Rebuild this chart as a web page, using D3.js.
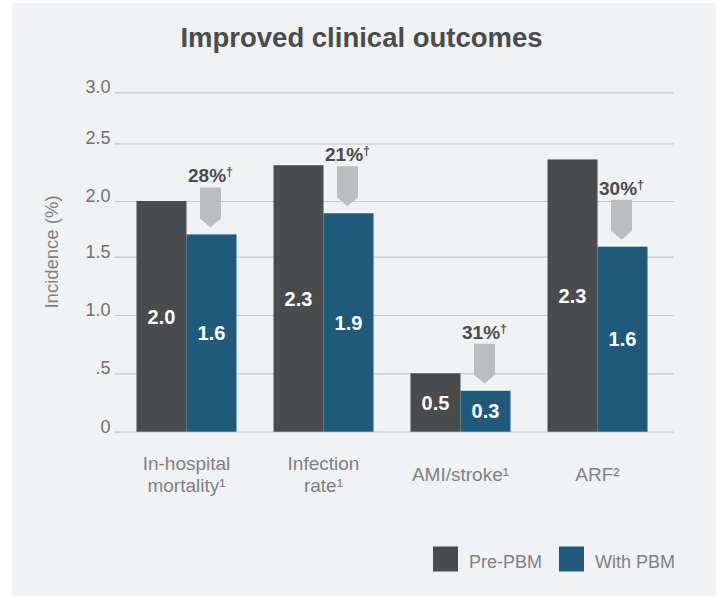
<!DOCTYPE html>
<html>
<head>
<meta charset="utf-8">
<script src="https://cdn.jsdelivr.net/npm/d3@7"></script>
<style>
  body { margin: 0; background: #ffffff; }
  svg { display: block; font-family: "Liberation Sans", Arial, Helvetica, sans-serif; }
  .tick text { fill: #6f7073; font-size: 18px; }
  .tick line { stroke: #c6c7c9; stroke-width: 1.2; }
</style>
</head>
<body>
<svg></svg>
<script>
// chart data
const categories = ["In-hospital mortality", "Infection rate", "AMI/stroke", "ARF"];
const categoryLines = [["In-hospital", "mortality¹"], ["Infection", "rate¹"], ["AMI/stroke¹"], ["ARF²"]];
const series = ["Pre-PBM", "With PBM"];
const prePBM = [2.0, 2.31, 0.5, 2.36];
const withPBM = [1.7, 1.89, 0.35, 1.59];
const preLabels = ["2.0", "2.3", "0.5", "2.3"];
const withLabels = ["1.6", "1.9", "0.3", "1.6"];
const reductions = ["28%", "21%", "31%", "30%"];
const tickValues = [0, 0.5, 1, 1.5, 2, 2.5, 3];
const tickLabels = ["0", ".5", "1.0", "1.5", "2.0", "2.5", "3.0"];

window.onload = () => {
    let width = 723, height = 596;
    let colors = {"Pre-PBM": "#4a4b4d", "With PBM": "#1f5a7d"};

    let svg = d3.select("svg")
        .attr("width", width)
        .attr("height", height);

    // panel
    svg.append("rect")
        .attr("x", 12).attr("y", 3)
        .attr("width", 704).attr("height", height - 3)
        .attr("fill", "#f1f2f4");

    svg.append("text")
        .attr("x", width / 2)
        .attr("y", 47)
        .attr("text-anchor", "middle")
        .attr("font-size", 27.5)
        .attr("font-weight", "bold")
        .attr("fill", "#4a4b4d")
        .text("Improved clinical outcomes");

    // y scale follows the printed gridlines (they are not evenly spaced)
    let y = d3.scaleLinear()
        .domain(tickValues)
        .range([431.7, 373.3, 315, 256.7, 201, 143.3, 92.3]);

    let x0 = d3.scaleBand()
        .domain(categories)
        .range([118, 666])
        .paddingInner(0.27)
        .paddingOuter(0.135);

    let x1 = d3.scaleBand()
        .domain(series)
        .range([0, x0.bandwidth()]);

    let yAxis = d3.axisLeft(y)
        .tickValues(tickValues)
        .tickFormat((d, i) => tickLabels[i])
        .tickSize(-559)
        .tickPadding(4);

    let axisG = svg.append("g")
        .attr("transform", "translate(114.5,0)")
        .call(yAxis);
    axisG.select(".domain").remove();
    axisG.selectAll(".tick text").attr("dy", "0.02em");
    axisG.attr("font-family", null).attr("font-size", null);

    svg.append("text")
        .attr("transform", "translate(58,252) rotate(-90)")
        .attr("text-anchor", "middle")
        .attr("font-size", 18.5)
        .attr("fill", "#808184")
        .text("Incidence (%)");

    let rows = categories.map((c, i) => ({
        cat: c, lines: categoryLines[i],
        bars: [
            {s: "Pre-PBM", v: prePBM[i], label: preLabels[i]},
            {s: "With PBM", v: withPBM[i], label: withLabels[i]}
        ],
        red: reductions[i]
    }));

    let groups = svg.append("g")
        .selectAll("g")
        .data(rows)
        .join("g")
        .attr("transform", d => "translate(" + x0(d.cat) + ",0)");

    groups.selectAll("rect")
        .data(d => d.bars)
        .join("rect")
        .attr("x", d => x1(d.s))
        .attr("y", d => y(d.v))
        .attr("width", x1.bandwidth())
        .attr("height", d => y(0) - y(d.v))
        .attr("fill", d => colors[d.s]);

    groups.selectAll("text.val")
        .data(d => d.bars)
        .join("text")
        .attr("class", "val")
        .attr("x", d => x1(d.s) + x1.bandwidth() / 2)
        .attr("y", d => (y(d.v) + y(0)) / 2)
        .attr("dy", "0.36em")
        .attr("text-anchor", "middle")
        .attr("font-size", 20)
        .attr("font-weight", "bold")
        .attr("fill", "#ffffff")
        .text(d => d.label);

    // reduction arrows above the PBM bar
    let arrowW = 21, arrowH = 40, tipH = 9;
    groups.append("path")
        .attr("fill", "#bcbdc0")
        .attr("d", d => {
            let cx = x1("With PBM") + x1.bandwidth() / 2 - 1;
            let tip = y(d.bars[1].v) - 7;
            let top = tip - arrowH;
            return "M" + (cx - arrowW / 2) + "," + top +
                "H" + (cx + arrowW / 2) +
                "V" + (tip - tipH) +
                "L" + cx + "," + tip +
                "L" + (cx - arrowW / 2) + "," + (tip - tipH) + "Z";
        });

    let redText = groups.append("text")
        .attr("x", x1("With PBM") + x1.bandwidth() / 2 - 1)
        .attr("y", d => y(d.bars[1].v) - 7 - arrowH - 5)
        .attr("text-anchor", "middle")
        .attr("font-size", 19)
        .attr("font-weight", "bold")
        .attr("fill", "#4a4b4d");
    redText.append("tspan").text(d => d.red);
    redText.append("tspan")
        .attr("font-size", 12.5)
        .attr("dy", -6)
        .text("†");

    // category labels
    groups.append("text")
        .attr("text-anchor", "middle")
        .attr("font-size", 19)
        .attr("fill", "#808184")
        .selectAll("tspan")
        .data(d => d.lines.map((l, k) => ({l: l, k: k, n: d.lines.length})))
        .join("tspan")
        .attr("x", x0.bandwidth() / 2)
        .attr("y", d => d.n == 1 ? 481 : 470 + d.k * 22)
        .text(d => d.l);

    // legend
    let legend = svg.append("g")
        .selectAll("g")
        .data(series)
        .join("g")
        .attr("transform", (d, i) => "translate(" + (433 + i * 126) + ",546.5)");
    legend.append("rect")
        .attr("width", 25).attr("height", 25)
        .attr("fill", d => colors[d]);
    legend.append("text")
        .attr("x", 36)
        .attr("y", 21.5)
        .attr("font-size", 18)
        .attr("fill", "#808184")
        .text(d => d);
}
</script>
</body>
</html>
